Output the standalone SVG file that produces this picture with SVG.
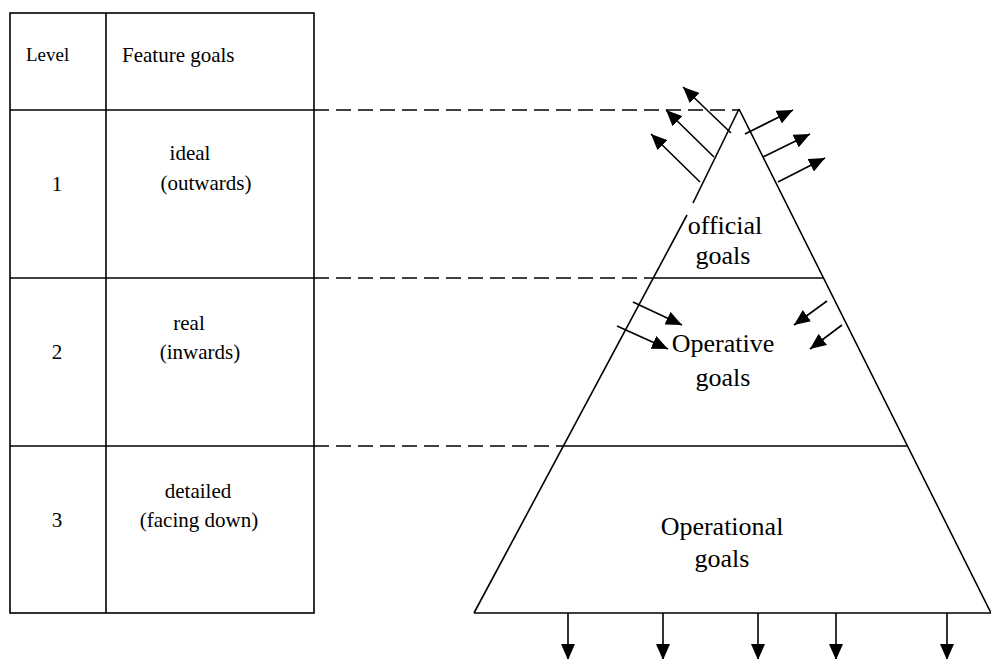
<svg xmlns="http://www.w3.org/2000/svg" width="991" height="659" viewBox="0 0 991 659">
<style>
.ln{stroke:#000;stroke-width:1.6;fill:none}
.ds{stroke:#000;stroke-width:1.6;fill:none;stroke-dasharray:15 7}
.ar{stroke:#000;stroke-width:1.6;fill:none;marker-end:url(#ah)}
text{font-family:"Liberation Serif","Times New Roman",serif;font-size:21px;fill:#000}
.m{text-anchor:middle}
.p{font-size:26px}
</style>
<defs>
<marker id="ah" viewBox="0 0 16 14" refX="16" refY="7" markerWidth="16" markerHeight="14" orient="auto" markerUnits="userSpaceOnUse">
<path d="M0,0 L16,7 L0,14 Z" fill="#000"/>
</marker>
</defs>
<g id="table">
<rect class="ln" x="10" y="13" width="304" height="600"/>
<line class="ln" x1="106" y1="13" x2="106" y2="613"/>
<line class="ln" x1="10" y1="110" x2="314" y2="110"/>
<line class="ln" x1="10" y1="278" x2="314" y2="278"/>
<line class="ln" x1="10" y1="446" x2="314" y2="446"/>
<text x="26" y="61" style="font-size:19px">Level</text>
<text x="122" y="62">Feature goals</text>
<text class="m" x="57" y="191">1</text>
<text class="m" x="190" y="160">ideal</text>
<text class="m" x="206" y="190">(outwards)</text>
<text class="m" x="57" y="359">2</text>
<text class="m" x="189" y="330">real</text>
<text class="m" x="200" y="359">(inwards)</text>
<text class="m" x="57" y="527">3</text>
<text class="m" x="198" y="498">detailed</text>
<text class="m" x="199" y="527">(facing down)</text>
</g>
<g id="pyramid">
<line class="ln" x1="739" y1="109" x2="693" y2="203"/>
<line class="ln" x1="687" y1="215" x2="474" y2="613"/>
<line class="ln" x1="739" y1="109" x2="991" y2="613"/>
<line class="ln" x1="474" y1="613" x2="991" y2="613"/>
<line class="ln" x1="650" y1="278" x2="823" y2="278"/>
<line class="ln" x1="562" y1="446" x2="907" y2="446"/>
<text class="m p" x="725" y="234">official</text>
<text class="m p" x="723" y="264">goals</text>
<text class="m p" x="723" y="352">Operative</text>
<text class="m p" x="723" y="386">goals</text>
<text class="m p" x="722" y="535">Operational</text>
<text class="m p" x="722" y="567">goals</text>
</g>
<g id="connectors">
<line class="ds" x1="314" y1="110" x2="739" y2="110"/>
<line class="ds" x1="314" y1="278" x2="650" y2="278"/>
<line class="ds" x1="314" y1="446" x2="562" y2="446"/>
<line class="ar" x1="731" y1="133" x2="683" y2="87"/>
<line class="ar" x1="714" y1="157" x2="666" y2="110"/>
<line class="ar" x1="700" y1="182" x2="651" y2="134"/>
<line class="ar" x1="745" y1="134" x2="793" y2="110"/>
<line class="ar" x1="763" y1="157" x2="810" y2="134"/>
<line class="ar" x1="778" y1="182" x2="825" y2="158"/>
<line class="ar" x1="633" y1="302" x2="682" y2="325"/>
<line class="ar" x1="617" y1="326" x2="668" y2="349"/>
<line class="ar" x1="827" y1="301" x2="794" y2="325"/>
<line class="ar" x1="842" y1="325" x2="810" y2="349"/>
<line class="ar" x1="568" y1="613" x2="568" y2="660"/>
<line class="ar" x1="663" y1="613" x2="663" y2="660"/>
<line class="ar" x1="758" y1="613" x2="758" y2="660"/>
<line class="ar" x1="836" y1="613" x2="836" y2="660"/>
<line class="ar" x1="947" y1="613" x2="947" y2="660"/>
</g>
</svg>
